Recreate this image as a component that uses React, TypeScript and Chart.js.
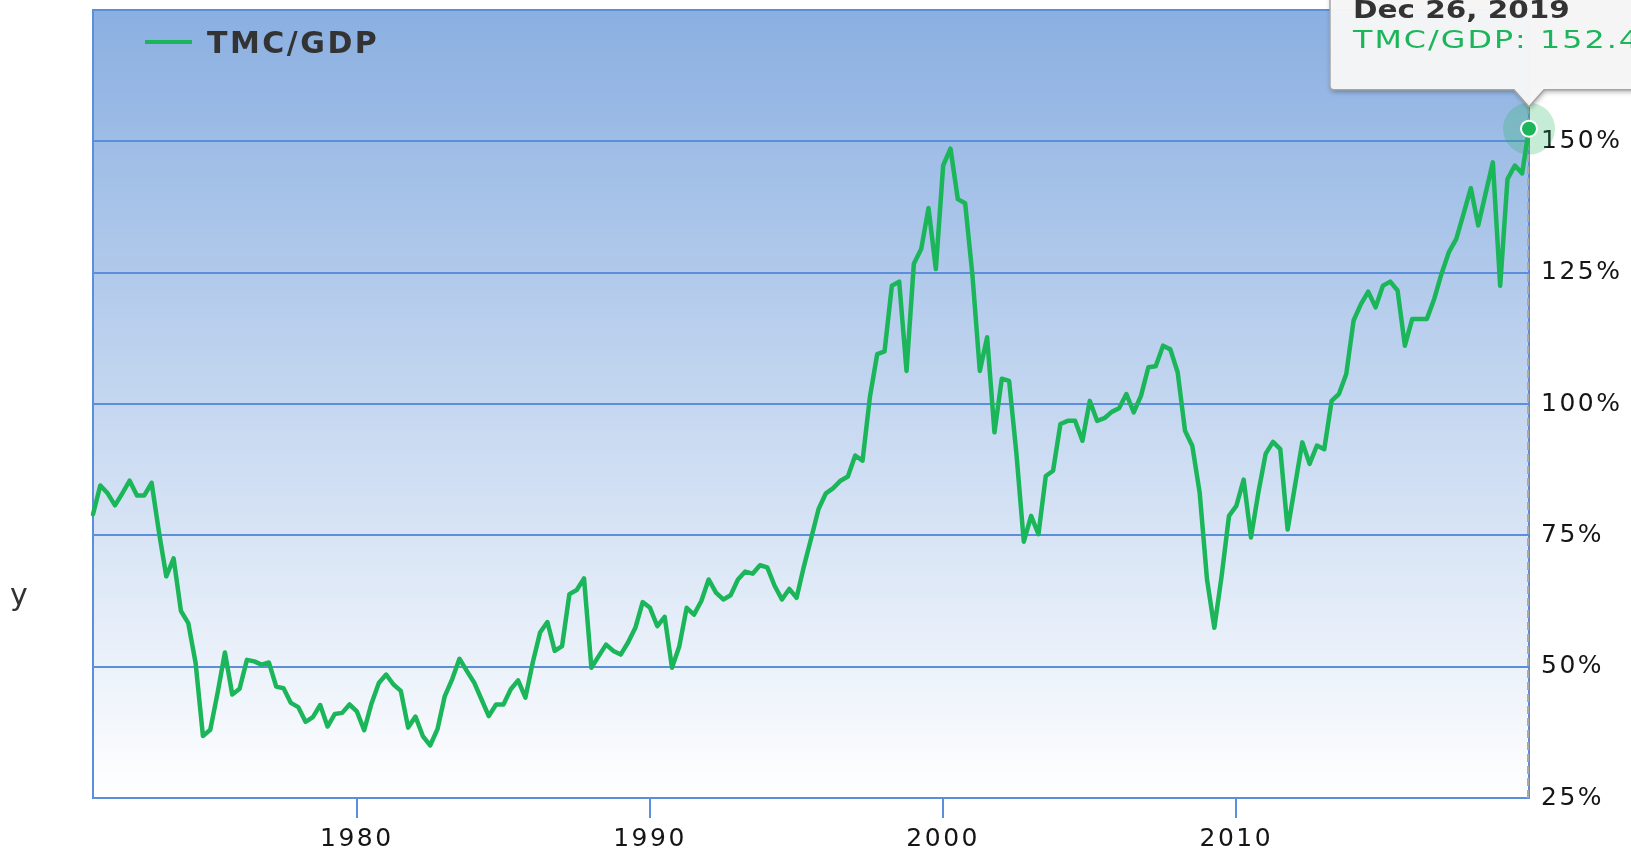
import React, { useEffect, useRef } from "react";
import { Chart, registerables } from "chart.js";

Chart.register(...registerables);

// ---------- data ----------
const seriesLabel = "TMC/GDP";
const firstQuarterYear = 1971; // quarterly observations start at 1971 Q1

const tmcGdp1970s = [
  79, 84.5, 83, 80.7, 83, 85.4, 82.6, 82.6, 85, 75.6, 67.2, 70.6,
  60.6, 58.3, 50.7, 36.8, 38, 45, 52.7, 44.7, 45.8, 51.3, 51, 50.4,
  50.8, 46.2, 45.9, 43.1, 42.3, 39.5, 40.4, 42.7, 38.6, 41.0, 41.2, 42.8,
];
const tmcGdp1980s = [
  41.5, 37.9, 43, 46.9, 48.5, 46.6, 45.4, 38.4, 40.5, 36.8,
  35.0, 38.1, 44.4, 47.6, 51.5, 49.2, 47.0, 43.8, 40.6, 42.8,
  42.8, 45.7, 47.4, 44.1, 50.8, 56.5, 58.5, 53.0, 53.9, 63.8,
  64.6, 66.8, 49.8, 52, 54.2, 53.0, 52.3, 54.6, 57.4, 62.3,
];
const tmcGdp1990s = [
  61.2, 57.7, 59.5, 49.8, 53.9, 61.2, 59.9, 62.5, 66.6, 64.1,
  62.8, 63.6, 66.6, 68.1, 67.7, 69.3, 68.9, 65.4, 62.8, 64.8,
  63.1, 69.1, 74.5, 80.0, 83.0, 84.0, 85.4, 86.2, 90.2, 89.2,
  101.3, 109.5, 110.0, 122.5, 123.3, 106.3, 126.7, 129.5, 137.3, 125.7,
];
const tmcGdp2000s = [
  145.4, 148.6, 139.0, 138.2, 124.4, 106.3, 112.7, 94.6, 104.8, 104.4,
  90.5, 73.8, 78.7, 75.2, 86.3, 87.3, 96.2, 96.8, 96.8, 93.0,
  100.6, 96.8, 97.3, 98.5, 99.2, 101.9, 98.4, 101.6, 107.0, 107.2,
  111.1, 110.4, 106.0, 94.9, 92.0, 83.1, 66.6, 57.4, 67.3, 78.7,
];
const tmcGdp2010s = [
  80.6, 85.6, 74.6, 83.1, 90.5, 92.8, 91.4, 76.1, 84.4, 92.7,
  88.6, 92.1, 91.4, 100.6, 101.9, 105.7, 115.9, 119.0, 121.4, 118.4,
  122.5, 123.3, 121.6, 111.1, 116.2, 116.2, 116.2, 120.0, 124.8, 128.9,
  131.4, 136.2, 141.1, 134.0, 140, 146.0, 122.5, 142.8, 145.4, 143.9,
];
const lastDate = "2019-12-26";
const lastValue = 152.4;

const xTickYears = [1980, 1990, 2000, 2010];
const yTickValues = [25, 50, 75, 100, 125, 150];
const yMin = 25;
const yMax = 175;
const leftAxisTitle = "y";
const monthNames = ["Jan", "Feb", "Mar", "Apr", "May", "Jun", "Jul", "Aug", "Sep", "Oct", "Nov", "Dec"];

// ---------- styles ----------
const GREEN = "#1bb55a";
const BLUE = "#5b8edb";
const FONT = "'DejaVu Sans', Verdana, sans-serif";
const TICK_SPACING = "2.5px";

function dateToYear(d: string): number {
  const [y, m, day] = d.split("-").map(Number);
  const start = Date.UTC(y, 0, 1);
  const end = Date.UTC(y + 1, 0, 1);
  return y + (Date.UTC(y, m - 1, day) - start) / (end - start);
}

function formatDate(d: string): string {
  const [y, m, day] = d.split("-").map(Number);
  return `${monthNames[m - 1]} ${day}, ${y}`;
}

function drawWide(ctx: CanvasRenderingContext2D, text: string, x: number, y: number, sx: number) {
  ctx.save();
  ctx.translate(x, y);
  ctx.scale(sx, 1);
  ctx.fillText(text, 0, 0);
  ctx.restore();
}

const overlayPlugin = {
  id: "overlay",
  beforeUpdate(chart: any) {
    chart.ctx.letterSpacing = TICK_SPACING;
  },
  beforeDraw(chart: any) {
    const { ctx, chartArea: a } = chart;
    ctx.letterSpacing = TICK_SPACING;
    ctx.save();
    const g = ctx.createLinearGradient(0, a.top, 0, a.bottom);
    g.addColorStop(0, "#8aafe1");
    g.addColorStop(1, "#ffffff");
    ctx.fillStyle = g;
    ctx.fillRect(a.left, a.top, a.right - a.left, a.bottom - a.top);
    ctx.restore();
  },
  beforeDatasetsDraw(chart: any) {
    const { ctx, chartArea: a } = chart;
    ctx.save();
    ctx.strokeStyle = BLUE;
    ctx.lineWidth = 2;
    ctx.strokeRect(a.left, a.top, a.right - a.left, a.bottom - a.top);
    const meta = chart.getDatasetMeta(0);
    const pt = meta.data[meta.data.length - 1];
    // crosshair
    ctx.strokeStyle = "#a9a9a9";
    ctx.lineWidth = 2;
    ctx.setLineDash([8, 4]);
    ctx.beginPath();
    ctx.moveTo(pt.x - 1, a.top);
    ctx.lineTo(pt.x - 1, a.bottom);
    ctx.stroke();
    ctx.setLineDash([]);
    // halo
    ctx.fillStyle = "rgba(27,181,90,0.25)";
    ctx.beginPath();
    ctx.arc(pt.x, pt.y, 26, 0, Math.PI * 2);
    ctx.fill();
    ctx.restore();
  },
  afterDraw(chart: any) {
    const { ctx } = chart;
    const meta = chart.getDatasetMeta(0);
    const pt = meta.data[meta.data.length - 1];
    const ds = chart.data.datasets[0];
    ctx.save();

    // legend inside plot area
    ctx.strokeStyle = ds.borderColor;
    ctx.lineWidth = 4;
    ctx.beginPath();
    ctx.moveTo(145, 42);
    ctx.lineTo(192, 42);
    ctx.stroke();
    ctx.letterSpacing = "2.5px";
    ctx.fillStyle = "#333333";
    ctx.font = `bold 30px ${FONT}`;
    ctx.textAlign = "left";
    ctx.textBaseline = "alphabetic";
    ctx.fillText(ds.label, 207, 52.5);

    // left axis title remnant
    ctx.letterSpacing = "0px";
    ctx.font = `30px ${FONT}`;
    ctx.fillStyle = "#333333";
    ctx.fillText(leftAxisTitle, 10, 605);

    // tooltip
    const px = pt.x;
    const py = pt.y;
    const left = px - 199;
    const top = -20;
    const right = px + 220;
    const bottom = py - 39;
    const tipY = py - 22;
    const r = 4;
    ctx.beginPath();
    ctx.moveTo(left, top);
    ctx.lineTo(left, bottom - r);
    ctx.quadraticCurveTo(left, bottom, left + r, bottom);
    ctx.lineTo(px - 15, bottom);
    ctx.lineTo(px, tipY);
    ctx.lineTo(px + 15, bottom);
    ctx.lineTo(right, bottom);
    ctx.lineTo(right, top);
    ctx.closePath();
    ctx.save();
    ctx.shadowColor = "rgba(0,0,0,0.35)";
    ctx.shadowBlur = 5;
    ctx.shadowOffsetX = 1;
    ctx.shadowOffsetY = 2;
    ctx.fillStyle = "rgba(248,248,248,0.97)";
    ctx.fill();
    ctx.restore();
    ctx.strokeStyle = "#a5a5a5";
    ctx.lineWidth = 1.5;
    ctx.stroke();

    ctx.fillStyle = "#333333";
    ctx.font = `bold 25px ${FONT}`;
    ctx.letterSpacing = "0px";
    drawWide(ctx, formatDate(lastDate), px - 176, 17.5, 1.18);
    ctx.fillStyle = ds.borderColor;
    ctx.font = `25px ${FONT}`;
    ctx.letterSpacing = "1.6px";
    drawWide(ctx, `${ds.label}: ${lastValue}`, px - 176, 47.5, 1.27);
    ctx.restore();
  },
};

export default function App() {
  const ref = useRef<HTMLCanvasElement | null>(null);

  useEffect(() => {
    document.body.style.margin = "0";
    const canvas = ref.current;
    if (!canvas) return;
    const values = [...tmcGdp1970s, ...tmcGdp1980s, ...tmcGdp1990s, ...tmcGdp2000s, ...tmcGdp2010s];
    const points = values.map((v, i) => ({ x: firstQuarterYear + i / 4, y: v }));
    const lastX = dateToYear(lastDate);
    points.push({ x: lastX, y: lastValue });
    const lastIndex = points.length - 1;

    const chart = new Chart(canvas, {
      type: "line",
      data: {
        datasets: [
          {
            label: seriesLabel,
            data: points,
            borderColor: GREEN,
            backgroundColor: GREEN,
            borderWidth: 4.5,
            borderJoinStyle: "round",
            borderCapStyle: "round",
            tension: 0,
            fill: false,
            clip: false as any,
            pointRadius: (c: any) => (c.dataIndex === lastIndex ? 8 : 0),
            pointHoverRadius: (c: any) => (c.dataIndex === lastIndex ? 8 : 0),
            pointBackgroundColor: GREEN,
            pointBorderColor: "#ffffff",
            pointBorderWidth: 2,
          } as any,
        ],
      },
      options: {
        responsive: false,
        animation: false,
        devicePixelRatio: 1,
        events: [],
        layout: { padding: { left: 93, top: 8, right: 0, bottom: 0 } },
        plugins: {
          legend: { display: false },
          tooltip: { enabled: false },
          title: { display: false },
        },
        scales: {
          x: {
            type: "linear",
            position: "bottom",
            min: firstQuarterYear,
            max: lastX,
            afterBuildTicks: (axis: any) => {
              axis.ticks = xTickYears.map((v) => ({ value: v }));
            },
            afterFit: (s: any) => {
              s.height = 54;
              s.paddingLeft = 0;
              s.paddingRight = 0;
            },
            grid: {
              drawOnChartArea: false,
              drawTicks: true,
              tickLength: 20,
              color: BLUE,
              lineWidth: 2,
            },
            border: { display: true, color: BLUE, width: 2 },
            ticks: {
              font: { family: FONT, size: 25 },
              color: "#151515",
              padding: 6,
              maxRotation: 0,
              autoSkip: false,
              callback: (v: any) => String(v),
            },
          },
          y: {
            type: "linear",
            position: "right",
            min: yMin,
            max: yMax,
            afterBuildTicks: (axis: any) => {
              axis.ticks = yTickValues.map((v) => ({ value: v }));
            },
            afterFit: (s: any) => {
              s.width = 102;
              s.paddingTop = 0;
              s.paddingBottom = 0;
            },
            grid: { drawTicks: false, color: BLUE, lineWidth: 2 },
            border: { display: true, color: BLUE, width: 2 },
            ticks: {
              font: { family: FONT, size: 25 },
              color: "#151515",
              padding: 12,
              callback: (v: any) => `${v}%`,
            },
          },
        },
      } as any,
      plugins: [overlayPlugin],
    });
    return () => chart.destroy();
  }, []);

  return (
    <div style={{ width: 1631, height: 852, overflow: "hidden", position: "relative" }}>
      <canvas ref={ref} width={1631} height={852} style={{ display: "block" }} />
    </div>
  );
}
